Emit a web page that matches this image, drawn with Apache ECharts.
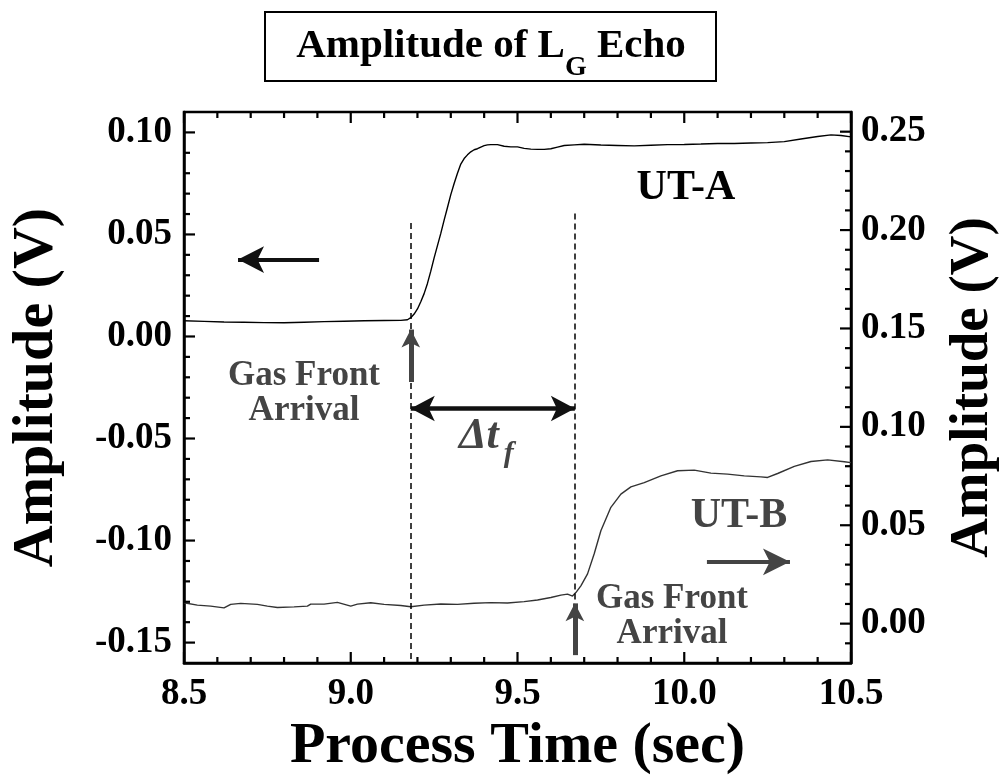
<!DOCTYPE html>
<html>
<head>
<meta charset="utf-8">
<script src="https://cdn.jsdelivr.net/npm/echarts@6/dist/echarts.min.js"></script>
<style>
  html, body { margin: 0; padding: 0; background: #fff; }
  #chart { width: 1008px; height: 781px; }
</style>
</head>
<body>
<div id="chart"></div>
<script>
const SERIF = '"Liberation Serif", "Times New Roman", Times, serif';

// UT-A echo amplitude (left axis, V) against process time (s)
const timeA = [8.50, 8.56, 8.62, 8.68, 8.74, 8.80, 8.86, 8.92, 8.98, 9.04, 9.10, 9.15, 9.17,
  9.18, 9.19, 9.20, 9.21, 9.22, 9.23, 9.24, 9.25, 9.26, 9.27, 9.28, 9.29, 9.30, 9.31, 9.32,
  9.33, 9.34, 9.35, 9.36, 9.37, 9.38, 9.39, 9.40, 9.41, 9.42, 9.44, 9.46, 9.48, 9.50, 9.52,
  9.54, 9.56, 9.58, 9.60, 9.62, 9.64, 9.67, 9.70, 9.75, 9.80, 9.85, 9.90, 9.95, 10.00, 10.05,
  10.10, 10.15, 10.20, 10.25, 10.30, 10.35, 10.40, 10.44, 10.47, 10.50];
const ampA = [0.0077, 0.0074, 0.0071, 0.0070, 0.0068, 0.0067, 0.0070, 0.0073, 0.0075, 0.0077, 0.0078, 0.0079, 0.0082,
  0.0092, 0.0110, 0.0135, 0.0170, 0.0210, 0.0260, 0.0320, 0.0385, 0.0445, 0.0505, 0.0570, 0.0632, 0.0695, 0.0750, 0.0800,
  0.0845, 0.0872, 0.0890, 0.0905, 0.0915, 0.0920, 0.0928, 0.0935, 0.0939, 0.0940, 0.0940, 0.0932, 0.0929, 0.0929, 0.0922,
  0.0918, 0.0917, 0.0917, 0.0920, 0.0928, 0.0936, 0.0939, 0.0942, 0.0938, 0.0936, 0.0934, 0.0937, 0.0940, 0.0941, 0.0943,
  0.0946, 0.0946, 0.0948, 0.0950, 0.0955, 0.0968, 0.0980, 0.0988, 0.0985, 0.0978];

// UT-B echo amplitude (right axis, V)
const timeB = [8.50, 8.54, 8.58, 8.62, 8.64, 8.67, 8.72, 8.75, 8.78, 8.83, 8.87, 8.88, 8.92, 8.96, 9.00,
  9.02, 9.06, 9.10, 9.15, 9.18, 9.22, 9.27, 9.32, 9.37, 9.42, 9.47, 9.52, 9.56, 9.60, 9.63, 9.65,
  9.665, 9.675, 9.69, 9.71, 9.73, 9.75, 9.78, 9.81, 9.84, 9.88, 9.93, 9.98, 10.03, 10.08, 10.13,
  10.18, 10.23, 10.25, 10.28, 10.33, 10.38, 10.43, 10.48, 10.50];
const ampB = [0.0106, 0.0094, 0.0089, 0.0080, 0.0098, 0.0103, 0.0098, 0.0089, 0.0082, 0.0085, 0.0089, 0.0099, 0.0099, 0.0108, 0.0089,
  0.0099, 0.0106, 0.0098, 0.0092, 0.0086, 0.0094, 0.0100, 0.0098, 0.0104, 0.0107, 0.0105, 0.0112, 0.0120, 0.0133, 0.0145, 0.0150,
  0.0140, 0.0158, 0.0192, 0.0253, 0.0355, 0.0472, 0.0591, 0.0658, 0.0695, 0.0717, 0.0751, 0.0777, 0.0780, 0.0765, 0.0760,
  0.0751, 0.0746, 0.0743, 0.0763, 0.0799, 0.0824, 0.0832, 0.0823, 0.0818];

// Axis ticks
const xMajorTicks = [8.5, 9.0, 9.5, 10.0, 10.5];
const xMinorTicks = [8.6, 8.7, 8.8, 8.9, 9.1, 9.2, 9.3, 9.4, 9.6, 9.7, 9.8, 9.9, 10.1, 10.2, 10.3, 10.4];
const leftMajorTicks = [-0.15, -0.10, -0.05, 0.00, 0.05, 0.10];
const leftMinorTicks = [-0.14, -0.13, -0.12, -0.11, -0.09, -0.08, -0.07, -0.06, -0.04, -0.03, -0.02, -0.01,
  0.01, 0.02, 0.03, 0.04, 0.06, 0.07, 0.08, 0.09];
const rightMajorTicks = [0.00, 0.05, 0.10, 0.15, 0.20, 0.25];
const rightMinorTicks = [-0.01, 0.01, 0.02, 0.03, 0.04, 0.06, 0.07, 0.08, 0.09, 0.11, 0.12, 0.13, 0.14,
  0.16, 0.17, 0.18, 0.19, 0.21, 0.22, 0.23, 0.24];

// Gas front arrival times (s)
const frontA = 9.18;
const frontB = 9.672;

const X_RANGE = { min: 8.5, max: 10.5 };
const LEFT_RANGE = { min: -0.16, max: 0.11 };
const RIGHT_RANGE = { min: -0.02, max: 0.26 };

const chart = echarts.init(document.getElementById('chart'), null, { renderer: 'canvas' });

const labelFont = { fontFamily: SERIF, fontWeight: 'bold', fontSize: 37, color: '#000' };
const nameFont = size => ({ fontFamily: SERIF, fontWeight: 'bold', fontSize: size, color: '#000' });
const FRAME = { show: true, onZero: false, lineStyle: { color: '#000', width: 2.5 } };
const GRAY = '#444';
const INK = '#111';
const arrowEnd = size => ({ symbol: 'arrow', symbolSize: size });

chart.setOption({
  backgroundColor: '#fff',
  animation: false,
  grid: { left: 183, right: 157, top: 112, bottom: 118, containLabel: false,
          show: true, borderColor: '#000', borderWidth: 2.5, backgroundColor: 'transparent' },
  xAxis: [{
    type: 'value', min: X_RANGE.min, max: X_RANGE.max, position: 'bottom',
    axisLine: FRAME, axisTick: { show: false }, splitLine: { show: false },
    axisLabel: Object.assign({ customValues: xMajorTicks, margin: 13, formatter: v => Number(v).toFixed(1) }, labelFont),
    name: 'Process Time (sec)', nameLocation: 'middle', nameGap: 46, nameTextStyle: nameFont(58)
  }],
  yAxis: [{
    type: 'value', min: LEFT_RANGE.min, max: LEFT_RANGE.max, position: 'left',
    axisLine: FRAME, axisTick: { show: false }, splitLine: { show: false },
    axisLabel: Object.assign({ customValues: leftMajorTicks, margin: 12, formatter: v => Number(v).toFixed(2) }, labelFont),
    name: 'Amplitude (V)', nameLocation: 'middle', nameGap: 118, nameTextStyle: nameFont(58)
  }, {
    type: 'value', min: RIGHT_RANGE.min, max: RIGHT_RANGE.max, position: 'right',
    axisLine: FRAME, axisTick: { show: false }, splitLine: { show: false },
    axisLabel: Object.assign({ customValues: rightMajorTicks, margin: 10, formatter: v => Number(v).toFixed(2) }, labelFont),
    name: 'Amplitude (V)', nameLocation: 'middle', nameGap: 94, nameTextStyle: nameFont(55)
  }],
  series: [
    {
      name: 'UT-A', type: 'line', xAxisIndex: 0, yAxisIndex: 0,
      data: timeA.map((t, i) => [t, ampA[i]]),
      showSymbol: false, z: 3, lineStyle: { color: '#000', width: 1.4 },
      markLine: {
        silent: true, animation: false, label: { show: false }, symbol: 'none',
        data: [
          // dashed marker at the UT-A gas front
          [{ coord: [frontA, 0.0556], symbol: 'none', lineStyle: { color: '#000', width: 1.5, type: [6, 4] } },
           { coord: [frontA, -0.16], symbol: 'none' }],
          // arrow toward the left axis
          [{ coord: [8.905, 0.0377], symbol: 'none', lineStyle: { color: INK, width: 4, type: 'solid' } },
           Object.assign({ coord: [8.662, 0.0377] }, arrowEnd([20, 26]))],
          // Δt_f span between the two arrivals
          [Object.assign({ coord: [frontA, -0.0353], lineStyle: { color: INK, width: 4.5, type: 'solid' } }, arrowEnd([19, 24])),
           Object.assign({ coord: [frontB, -0.0353] }, arrowEnd([19, 24]))],
          // arrival pointer, UT-A
          [{ coord: [frontA, -0.0223], symbol: 'none', lineStyle: { color: GRAY, width: 5, type: 'solid' } },
           Object.assign({ coord: [frontA, 0.0034] }, arrowEnd([14, 18]))]
        ]
      }
    },
    {
      name: 'UT-B', type: 'line', xAxisIndex: 0, yAxisIndex: 1,
      data: timeB.map((t, i) => [t, ampB[i]]),
      showSymbol: false, z: 3, lineStyle: { color: '#333', width: 1.4 },
      markLine: {
        silent: true, animation: false, label: { show: false }, symbol: 'none',
        data: [
          // dashed marker at the UT-B gas front
          [{ coord: [frontB, 0.2084], symbol: 'none', lineStyle: { color: '#000', width: 1.5, type: [6, 4] } },
           { coord: [frontB, 0.0110], symbol: 'none' }],
          // arrow toward the right axis
          [{ coord: [10.068, 0.0314], symbol: 'none', lineStyle: { color: GRAY, width: 4, type: 'solid' } },
           Object.assign({ coord: [10.317, 0.0314] }, arrowEnd([20, 27]))],
          // arrival pointer, UT-B
          [{ coord: [frontB, -0.0160], symbol: 'none', lineStyle: { color: GRAY, width: 5, type: 'solid' } },
           Object.assign({ coord: [frontB, 0.0103] }, arrowEnd([14, 18]))]
        ]
      }
    }
  ]
});

// ---- inward tick marks on all four sides, placed through the axis scales ----
const px = v => chart.convertToPixel({ xAxisIndex: 0 }, v);
const pyL = v => chart.convertToPixel({ yAxisIndex: 0 }, v);
const pyR = v => chart.convertToPixel({ yAxisIndex: 1 }, v);
const gLeft = px(X_RANGE.min), gRight = px(X_RANGE.max);
const gTop = pyL(LEFT_RANGE.max), gBottom = pyL(LEFT_RANGE.min);
const MAJOR = 11, MINOR = 6;

function tick(x1, y1, x2, y2) {
  return { type: 'line', z: 5, silent: true,
    shape: { x1: x1, y1: y1, x2: x2, y2: y2 },
    style: { stroke: '#000', lineWidth: 2.2 } };
}
const ticks = [];
xMajorTicks.forEach(v => { const x = px(v);
  ticks.push(tick(x, gBottom, x, gBottom - MAJOR), tick(x, gTop, x, gTop + MAJOR)); });
xMinorTicks.forEach(v => { const x = px(v);
  ticks.push(tick(x, gBottom, x, gBottom - MINOR), tick(x, gTop, x, gTop + MINOR)); });
leftMajorTicks.forEach(v => { const y = pyL(v); ticks.push(tick(gLeft, y, gLeft + MAJOR, y)); });
leftMinorTicks.forEach(v => { const y = pyL(v); ticks.push(tick(gLeft, y, gLeft + MINOR, y)); });
rightMajorTicks.forEach(v => { const y = pyR(v); ticks.push(tick(gRight, y, gRight - MAJOR, y)); });
rightMinorTicks.forEach(v => { const y = pyR(v); ticks.push(tick(gRight, y, gRight - MINOR, y)); });

// ---- text annotations and the boxed title ----
const measureCtx = document.createElement('canvas').getContext('2d');
function textWidth(str, size) {
  measureCtx.font = 'bold ' + size + 'px ' + SERIF;
  return measureCtx.measureText(str).width;
}
function label(text, x, y, size, color, extra) {
  return { type: 'text', x: x, y: y, z: 10,
    style: Object.assign({ text: text, fontFamily: SERIF, fontWeight: 'bold', fontSize: size,
      fill: color, align: 'center', verticalAlign: 'middle' }, extra || {}) };
}
const titleMain = 'Amplitude of L', titleSub = 'G', titleTail = ' Echo';
const tSize = 41, sSize = 28;
const w1 = textWidth(titleMain, tSize), w2 = textWidth(titleSub, sSize), w3 = textWidth(titleTail, tSize);
const tStart = 491 - (w1 + w2 + w3) / 2;
const ax = px(frontA), bx = px(frontB), ay = pyL(-0.0353);

chart.setOption({
  graphic: ticks.concat([
    { type: 'rect', z: 9, shape: { x: 265, y: 12, width: 451, height: 69 },
      style: { fill: '#fff', stroke: '#000', lineWidth: 2 } },
    label(titleMain, tStart, 46, tSize, '#000', { align: 'left' }),
    label(titleSub, tStart + w1, 68, sSize, '#000', { align: 'left' }),
    label(titleTail, tStart + w1 + w2, 46, tSize, '#000', { align: 'left' }),
    label('UT-A', 686, 188, 42, '#000'),
    label('UT-B', 739, 516, 42, GRAY),
    label('Gas Front\nArrival', 304, 393, 35, GRAY, { lineHeight: 35 }),
    label('Gas Front\nArrival', 672, 616, 35, GRAY, { lineHeight: 35 }),
    label('\u0394t', (ax + bx) / 2 - 14, ay + 28, 44, GRAY, { fontStyle: 'italic' }),
    label('f', (ax + bx) / 2 + 16, ay + 46, 30, GRAY, { fontStyle: 'italic' })
  ])
});
</script>
</body>
</html>
